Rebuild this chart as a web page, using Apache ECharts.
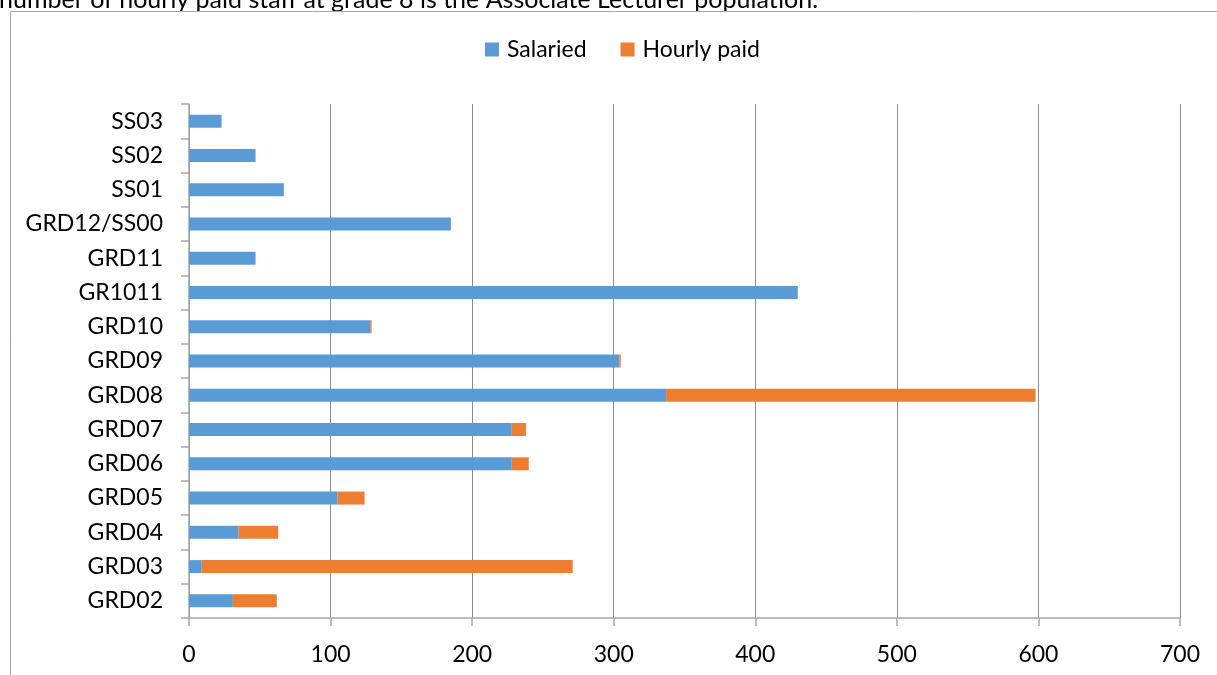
<!DOCTYPE html>
<html>
<head>
<meta charset="utf-8">
<script src="https://cdn.jsdelivr.net/npm/echarts@6/dist/echarts.min.js"></script>
<style>
  html, body { margin: 0; padding: 0; background: #fff; }
  #chart { width: 1217px; height: 675px; }
</style>
</head>
<body>
<div id="chart"></div>
<script>
// Staff grades, bottom to top as drawn on the category axis
const grades = ['GRD02', 'GRD03', 'GRD04', 'GRD05', 'GRD06', 'GRD07', 'GRD08',
  'GRD09', 'GRD10', 'GR1011', 'GRD11', 'GRD12/SS00', 'SS01', 'SS02', 'SS03'];

// Headcount per grade
const salaried   = [31, 9, 35, 105, 228, 228, 337, 304, 128, 430, 47, 185, 67, 47, 23];
const hourlyPaid = [31, 262, 28, 19, 12, 10, 261, 1, 1, 0, 0, 0, 0, 0, 0];

const FONT = 'Lato';
const FS = 23;
const chart = echarts.init(document.getElementById('chart'));

chart.setOption({
  animation: false,
  textStyle: { fontFamily: FONT },
  color: ['#5b9bd5', '#ed7d31'],
  graphic: [
    {
      type: 'text',
      left: -1,
      top: -13,
      style: {
        text: 'number of hourly paid staff at grade 8 is the Associate Lecturer population.',
        font: '25px ' + FONT,
        fill: '#000'
      }
    },
    {
      type: 'rect',
      shape: { x: 10.5, y: 11.5, width: 1230, height: 700 },
      style: { fill: 'none', stroke: '#a6a6a6', lineWidth: 1 }
    }
  ],
  legend: {
    top: 38,
    left: 485,
    itemWidth: 14,
    itemHeight: 14,
    itemGap: 34,
    icon: 'rect',
    padding: 0,
    textStyle: { fontSize: FS, color: '#000', fontFamily: FONT, padding: [0, 0, 0, 3] },
    data: ['Salaried', 'Hourly paid']
  },
  grid: { left: 189, right: 37, top: 104, bottom: 57, containLabel: false },
  xAxis: {
    type: 'value',
    min: 0,
    max: 700,
    interval: 100,
    axisLine: { show: true, lineStyle: { color: '#a6a6a6', width: 1.5 } },
    axisTick: { show: true, length: 8, lineStyle: { color: '#a6a6a6', width: 1.5 } },
    axisLabel: { fontSize: FS, color: '#000', margin: 25, fontFamily: FONT },
    splitLine: { show: true, lineStyle: { color: '#8c8c8c', width: 1 } }
  },
  yAxis: {
    type: 'category',
    data: grades,
    axisLine: { show: true, lineStyle: { color: '#a6a6a6', width: 1.5 } },
    axisTick: { show: true, length: 8, lineStyle: { color: '#a6a6a6', width: 1.5 } },
    axisLabel: { fontSize: FS, color: '#000', margin: 26, fontFamily: FONT },
    splitLine: { show: false }
  },
  series: [
    {
      name: 'Salaried',
      type: 'bar',
      stack: 'staff',
      barWidth: 13,
      data: salaried
    },
    {
      name: 'Hourly paid',
      type: 'bar',
      stack: 'staff',
      barWidth: 13,
      data: hourlyPaid
    }
  ]
});
</script>
</body>
</html>
